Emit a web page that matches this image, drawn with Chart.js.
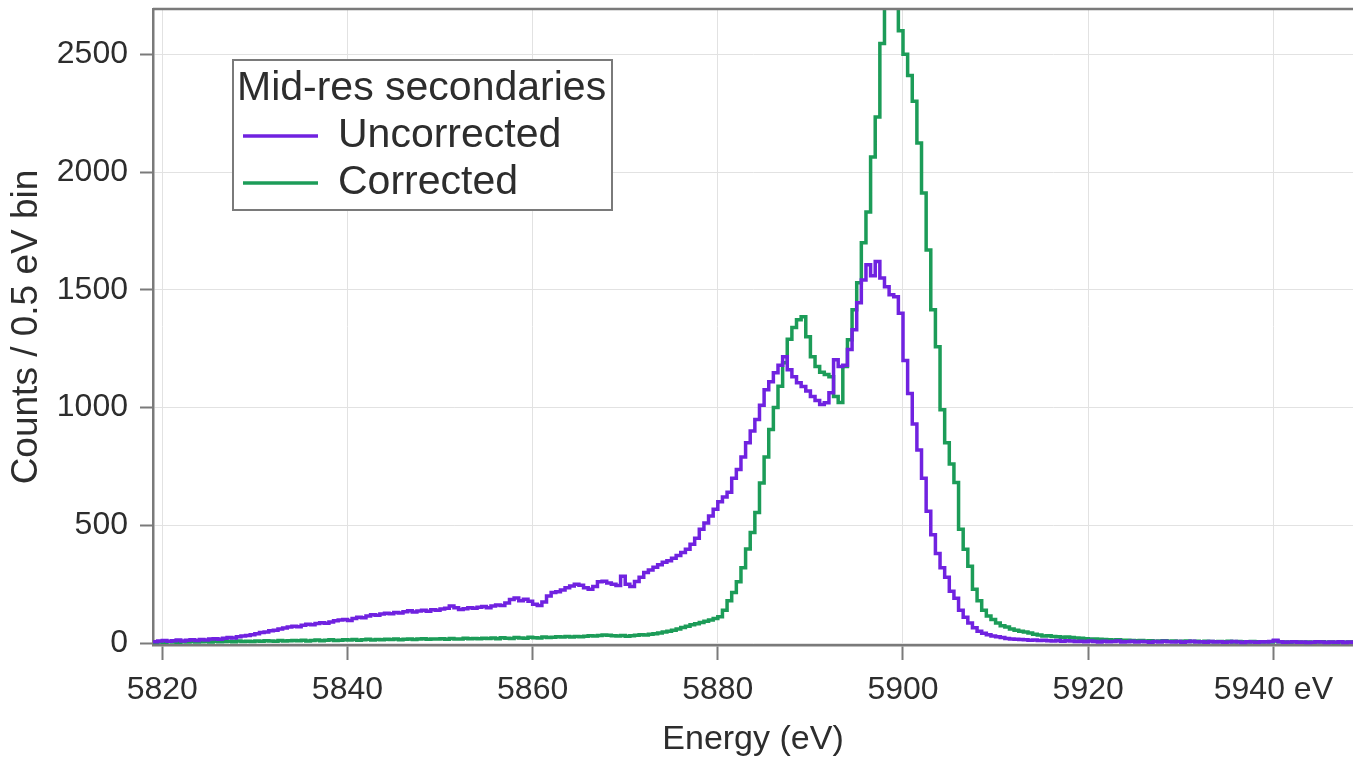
<!DOCTYPE html>
<html>
<head>
<meta charset="utf-8">
<title>Mid-res secondaries</title>
<script src="https://cdn.jsdelivr.net/npm/chart.js@4.4.1/dist/chart.umd.min.js"></script>
<style>
  html, body { margin: 0; padding: 0; background: #fff; }
  #wrap { position: relative; width: 1353px; height: 757px; }
</style>
</head>
<body>
<div id="wrap"><canvas id="grafica"></canvas></div>
<script>
// ==============================
// Data (0.5 eV bins, left edges from 5819 eV)
// ==============================
const binStart = 5819;
const binWidth = 0.5;

const uncorrected = [
  6, 9, 11, 8, 10, 13, 9, 12, 14, 11,
  15, 13, 17, 19, 16, 21, 24, 22, 27, 30,
  32, 36, 40, 45, 47, 52, 55, 60, 64, 68,
  72, 70, 76, 80, 78, 83, 86, 84, 90, 95,
  98, 100, 96, 104, 110, 108, 115, 120, 118, 124,
  127, 125, 130, 128, 133, 137, 132, 136, 140, 135,
  142, 139, 145, 148, 158, 150, 143, 146, 150, 148,
  152, 155, 150, 158, 162, 160, 170, 185, 192, 180,
  186, 178, 165, 160, 175, 200, 215, 218, 225, 235,
  242, 250, 246, 235, 229, 240, 260, 263, 255, 250,
  245, 284, 250, 240, 262, 280, 300, 310, 322, 333,
  343, 350, 360, 372, 385, 398, 420, 445, 483, 510,
  540, 568, 600, 620, 640, 700, 737, 790, 851, 900,
  949, 1010, 1076, 1110, 1148, 1180, 1216, 1160, 1131, 1105,
  1089, 1070, 1047, 1030, 1013, 1020, 1063, 1203, 1174, 1180,
  1246, 1330, 1445, 1542, 1606, 1560, 1620, 1550, 1513, 1479,
  1470, 1400, 1200, 1060, 930, 820, 700, 560, 460, 380,
  320, 280, 220, 190, 140, 110, 85, 65, 50, 42,
  36, 30, 27, 24, 20, 18, 16, 15, 14, 12,
  13, 11, 12, 10, 9, 11, 8, 10, 9, 7,
  8, 6, 9, 7, 5, 8, 6, 7, 9, 5,
  6, 8, 5, 7, 6, 4, 7, 5, 8, 6,
  5, 7, 4, 6, 8, 5, 6, 4, 7, 5,
  6, 4, 5, 7, 5, 3, 6, 5, 4, 6,
  5, 7, 12, 6, 4, 5, 6, 4, 5, 3,
  4, 6, 5, 3, 5, 4, 6, 3, 5, 4
];

const corrected = [
  3, 5, 4, 6, 5, 4, 6, 5, 7, 5,
  6, 7, 5, 8, 6, 7, 8, 6, 9, 7,
  8, 7, 9, 8, 10, 9, 8, 11, 9, 10,
  11, 10, 12, 9, 11, 13, 10, 12, 14, 11,
  12, 14, 13, 15, 12, 14, 16, 13, 15, 14,
  16, 15, 17, 14, 16, 18, 15, 17, 19, 16,
  18, 17, 19, 16, 20, 18, 17, 21, 19, 20,
  19, 21, 20, 22, 19, 23, 21, 20, 24, 22,
  21, 25, 23, 22, 26, 24, 25, 27, 26, 28,
  26, 28, 27, 29, 31, 30, 32, 34, 33, 31,
  30, 32, 29, 31, 33, 35, 34, 38, 40, 43,
  47, 50, 55, 60, 66, 72, 78, 82, 88, 93,
  98, 104, 112, 140, 180, 215, 260, 320, 400, 470,
  555, 680, 790, 907, 1000, 1090, 1190, 1290, 1340, 1373,
  1386, 1301, 1216, 1174, 1150, 1140, 1131, 1047, 1021, 1174,
  1288, 1415, 1530, 1700, 1830, 2064, 2233, 2546, 2720, 2760,
  2740, 2600, 2500, 2410, 2300, 2123, 1911, 1669, 1415, 1258,
  991, 851, 760, 682, 483, 398, 326, 229, 180, 140,
  115, 100, 85, 74, 68, 60, 55, 50, 47, 43,
  38, 34, 30, 31, 28, 27, 25, 26, 24, 22,
  21, 19, 18, 17, 16, 15, 14, 13, 14, 12,
  12, 11, 10, 11, 9, 10, 8, 9, 10, 8,
  9, 7, 8, 9, 7, 8, 6, 8, 7, 6,
  7, 6, 8, 5, 7, 6, 5, 7, 6, 5,
  6, 5, 9, 6, 5, 4, 6, 5, 4, 5,
  4, 5, 6, 4, 5, 3, 5, 4, 5, 4
];

const xTicks = [5820, 5840, 5860, 5880, 5900, 5920, 5940];
const yTicks = [0, 500, 1000, 1500, 2000, 2500];
const seriesNames = ["Uncorrected", "Corrected"];
const legendTitle = "Mid-res secondaries";

// ==============================
// Helpers
// ==============================
const FONT = "'Liberation Sans', Arial, Helvetica, sans-serif";
const TXT = "#2d2d2d";
const AXIS = "#7a7a7a";

function toPoints(counts) {
  const pts = counts.map((c, i) => ({ x: binStart + i * binWidth, y: c }));
  pts.push({ x: binStart + counts.length * binWidth, y: counts[counts.length - 1] });
  return pts;
}

// frame (top edge) + legend box
const framePlugin = {
  id: "frame",
  afterDraw(chart) {
    const { ctx, chartArea } = chart;
    ctx.save();
    ctx.strokeStyle = AXIS;
    ctx.lineWidth = 2.5;
    ctx.beginPath();
    ctx.moveTo(chartArea.left, chartArea.top);
    ctx.lineTo(chartArea.right, chartArea.top);
    ctx.stroke();

    // legend
    const bx = 233, by = 60, bw = 379, bh = 150;
    ctx.fillStyle = "#fff";
    ctx.fillRect(bx, by, bw, bh);
    ctx.strokeStyle = AXIS;
    ctx.lineWidth = 2;
    ctx.strokeRect(bx, by, bw, bh);

    ctx.fillStyle = TXT;
    ctx.font = "41px " + FONT;
    ctx.textBaseline = "middle";
    ctx.textAlign = "left";
    ctx.fillText(legendTitle, bx + 4, by + 29);

    chart.data.datasets.forEach((ds, i) => {
      const y = by + 76 + i * 47;
      ctx.strokeStyle = ds.borderColor;
      ctx.lineWidth = 3.5;
      ctx.beginPath();
      ctx.moveTo(bx + 10, y);
      ctx.lineTo(bx + 85, y);
      ctx.stroke();
      ctx.fillStyle = TXT;
      ctx.fillText(ds.label, bx + 105, y);
    });
    ctx.restore();
  }
};

// ==============================
// Chart
// ==============================
const ctx = document.getElementById("grafica").getContext("2d");
const grafica = new Chart(ctx, {
  type: "line",
  data: {
    datasets: [
      {
        label: seriesNames[0],
        data: toPoints(uncorrected),
        borderColor: "#7022e0",
        borderWidth: 3.5,
        pointRadius: 0,
        stepped: true,
        fill: false
      },
      {
        label: seriesNames[1],
        data: toPoints(corrected),
        borderColor: "#1c9c58",
        borderWidth: 3.5,
        pointRadius: 0,
        stepped: true,
        fill: false
      }
    ]
  },
  options: {
    responsive: true,
    maintainAspectRatio: false,
    animation: false,
    layout: { padding: { top: 9, right: 0, left: 0, bottom: 0 } },
    plugins: {
      legend: { display: false },
      tooltip: { enabled: false }
    },
    scales: {
      x: {
        type: "linear",
        min: 5819,
        max: 5948.6,
        afterFit: s => { s.height = 112; s.paddingLeft = 0; s.paddingRight = 0; },
        afterBuildTicks: s => { s.ticks = xTicks.map(v => ({ value: v })); },
        ticks: {
          font: { family: FONT, size: 32 },
          color: TXT,
          padding: 11,
          maxRotation: 0,
          callback: v => v === 5940 ? "5940 eV" : String(v)
        },
        grid: {
          color: "#e2e2e2",
          lineWidth: 1,
          tickColor: AXIS,
          tickWidth: 2,
          tickLength: 15
        },
        border: { color: AXIS, width: 2.5 },
        title: {
          display: true,
          text: "Energy (eV)",
          font: { family: FONT, size: 34, lineHeight: 1.0 },
          color: TXT,
          padding: { top: 0, bottom: 0 }
        }
      },
      y: {
        type: "linear",
        min: -8,
        max: 2692,
        afterFit: s => { s.width = 153; s.paddingTop = 0; s.paddingBottom = 0; },
        afterBuildTicks: s => { s.ticks = yTicks.map(v => ({ value: v })); },
        ticks: {
          font: { family: FONT, size: 32 },
          color: TXT,
          padding: 12,
          callback: v => String(v)
        },
        grid: {
          color: "#e2e2e2",
          lineWidth: 1,
          tickColor: AXIS,
          tickWidth: 2,
          tickLength: 13
        },
        border: { color: AXIS, width: 2.5 },
        title: {
          display: true,
          text: "Counts / 0.5 eV bin",
          font: { family: FONT, size: 37, lineHeight: 1.15 },
          color: TXT,
          padding: { top: 6, bottom: 0 }
        }
      }
    }
  },
  plugins: [framePlugin]
});
</script>
</body>
</html>
